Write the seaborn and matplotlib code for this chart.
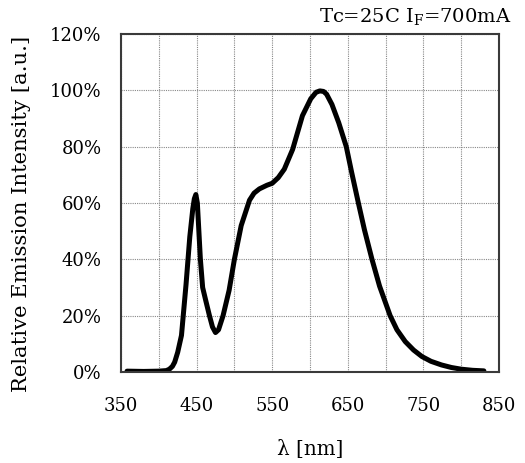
import numpy as np
import pandas as pd
import matplotlib
matplotlib.use("Agg")
import matplotlib.pyplot as plt
from matplotlib.ticker import MultipleLocator, FuncFormatter
import seaborn as sns

# Emission spectrum of the LED (wavelength in nm, relative intensity in %)
wavelength = [358, 380, 400, 410, 414, 418, 421, 425, 430, 436, 441, 445, 447, 449, 451, 453,
              455, 458, 462, 467, 471, 475, 479, 485, 493, 500, 509, 520, 526, 533, 543,
              550, 558, 566, 577, 590, 601, 608, 613, 618, 622, 629, 638, 648, 655, 664, 672,
              682, 692, 700, 706, 715, 726, 737, 748, 760, 774, 787, 800, 815, 830]
intensity = [0.3, 0.2, 0.3, 0.5, 1.0, 2.0, 3.5, 7.0, 13, 31, 48, 58, 61.5, 63, 60, 50,
             40, 30, 25.5, 20, 16, 14, 15, 20, 29, 40, 52, 61, 63.5, 65, 66.3,
             67, 69, 72, 79, 91, 97, 99.3, 99.8, 99.6, 98.6, 95, 88.5, 80, 71, 60, 50.5,
             40, 30.5, 24.5, 20, 15, 10.8, 7.8, 5.5, 3.8, 2.5, 1.6, 1.0, 0.6, 0.4]

df = pd.DataFrame({"wavelength": wavelength, "intensity": intensity})

sns.set_theme(style="white")
plt.rcParams["font.family"] = ["DejaVu Serif"]
plt.rcParams["mathtext.fontset"] = "dejavuserif"

fig = plt.figure(figsize=(5.25, 4.63), dpi=100)
ax = fig.add_axes([121 / 525, 1 - 372 / 463, 378 / 525, 338 / 463])

sns.lineplot(data=df, x="wavelength", y="intensity", ax=ax, color="black",
             linewidth=3.6, solid_capstyle="round", solid_joinstyle="round")

ax.set_xlim(350, 850)
ax.set_ylim(0, 120)
ax.xaxis.set_major_locator(MultipleLocator(100, offset=50))
ax.xaxis.set_minor_locator(MultipleLocator(50))
ax.yaxis.set_major_locator(MultipleLocator(20))
ax.yaxis.set_major_formatter(FuncFormatter(lambda v, p: f"{v:.0f}%"))

ax.grid(True, which="both", axis="x", color="#888888", linestyle=(0, (1, 1)), linewidth=0.8)
ax.grid(True, which="major", axis="y", color="#888888", linestyle=(0, (1, 1)), linewidth=0.8)
ax.set_axisbelow(True)

for s in ax.spines.values():
    s.set_color("#3a3a3a")
    s.set_linewidth(1.5)

ax.tick_params(axis="both", which="major", direction="in", length=4, width=1,
               color="#3a3a3a", labelsize=13, labelcolor="black")
ax.tick_params(axis="y", which="major", pad=14)
ax.tick_params(axis="x", which="major", pad=18)
ax.tick_params(axis="x", which="minor", length=0)

ax.set_xlabel("")
ax.set_ylabel("")
fig.text(310 / 525, 1 - 449 / 463, "λ [nm]", ha="center", va="center",
         fontsize=14.3, color="black")
fig.text(22 / 525, 1 - 214 / 463, "Relative Emission Intensity [a.u.]", rotation=90,
         ha="center", va="center", fontsize=15.2, color="black")

fig.text(511 / 525, 1 - 22 / 463, r"Tc=25C I$_\mathrm{F}$=700mA", ha="right",
         va="baseline", fontsize=14, color="black")

fig.savefig("out.png", dpi=100)
